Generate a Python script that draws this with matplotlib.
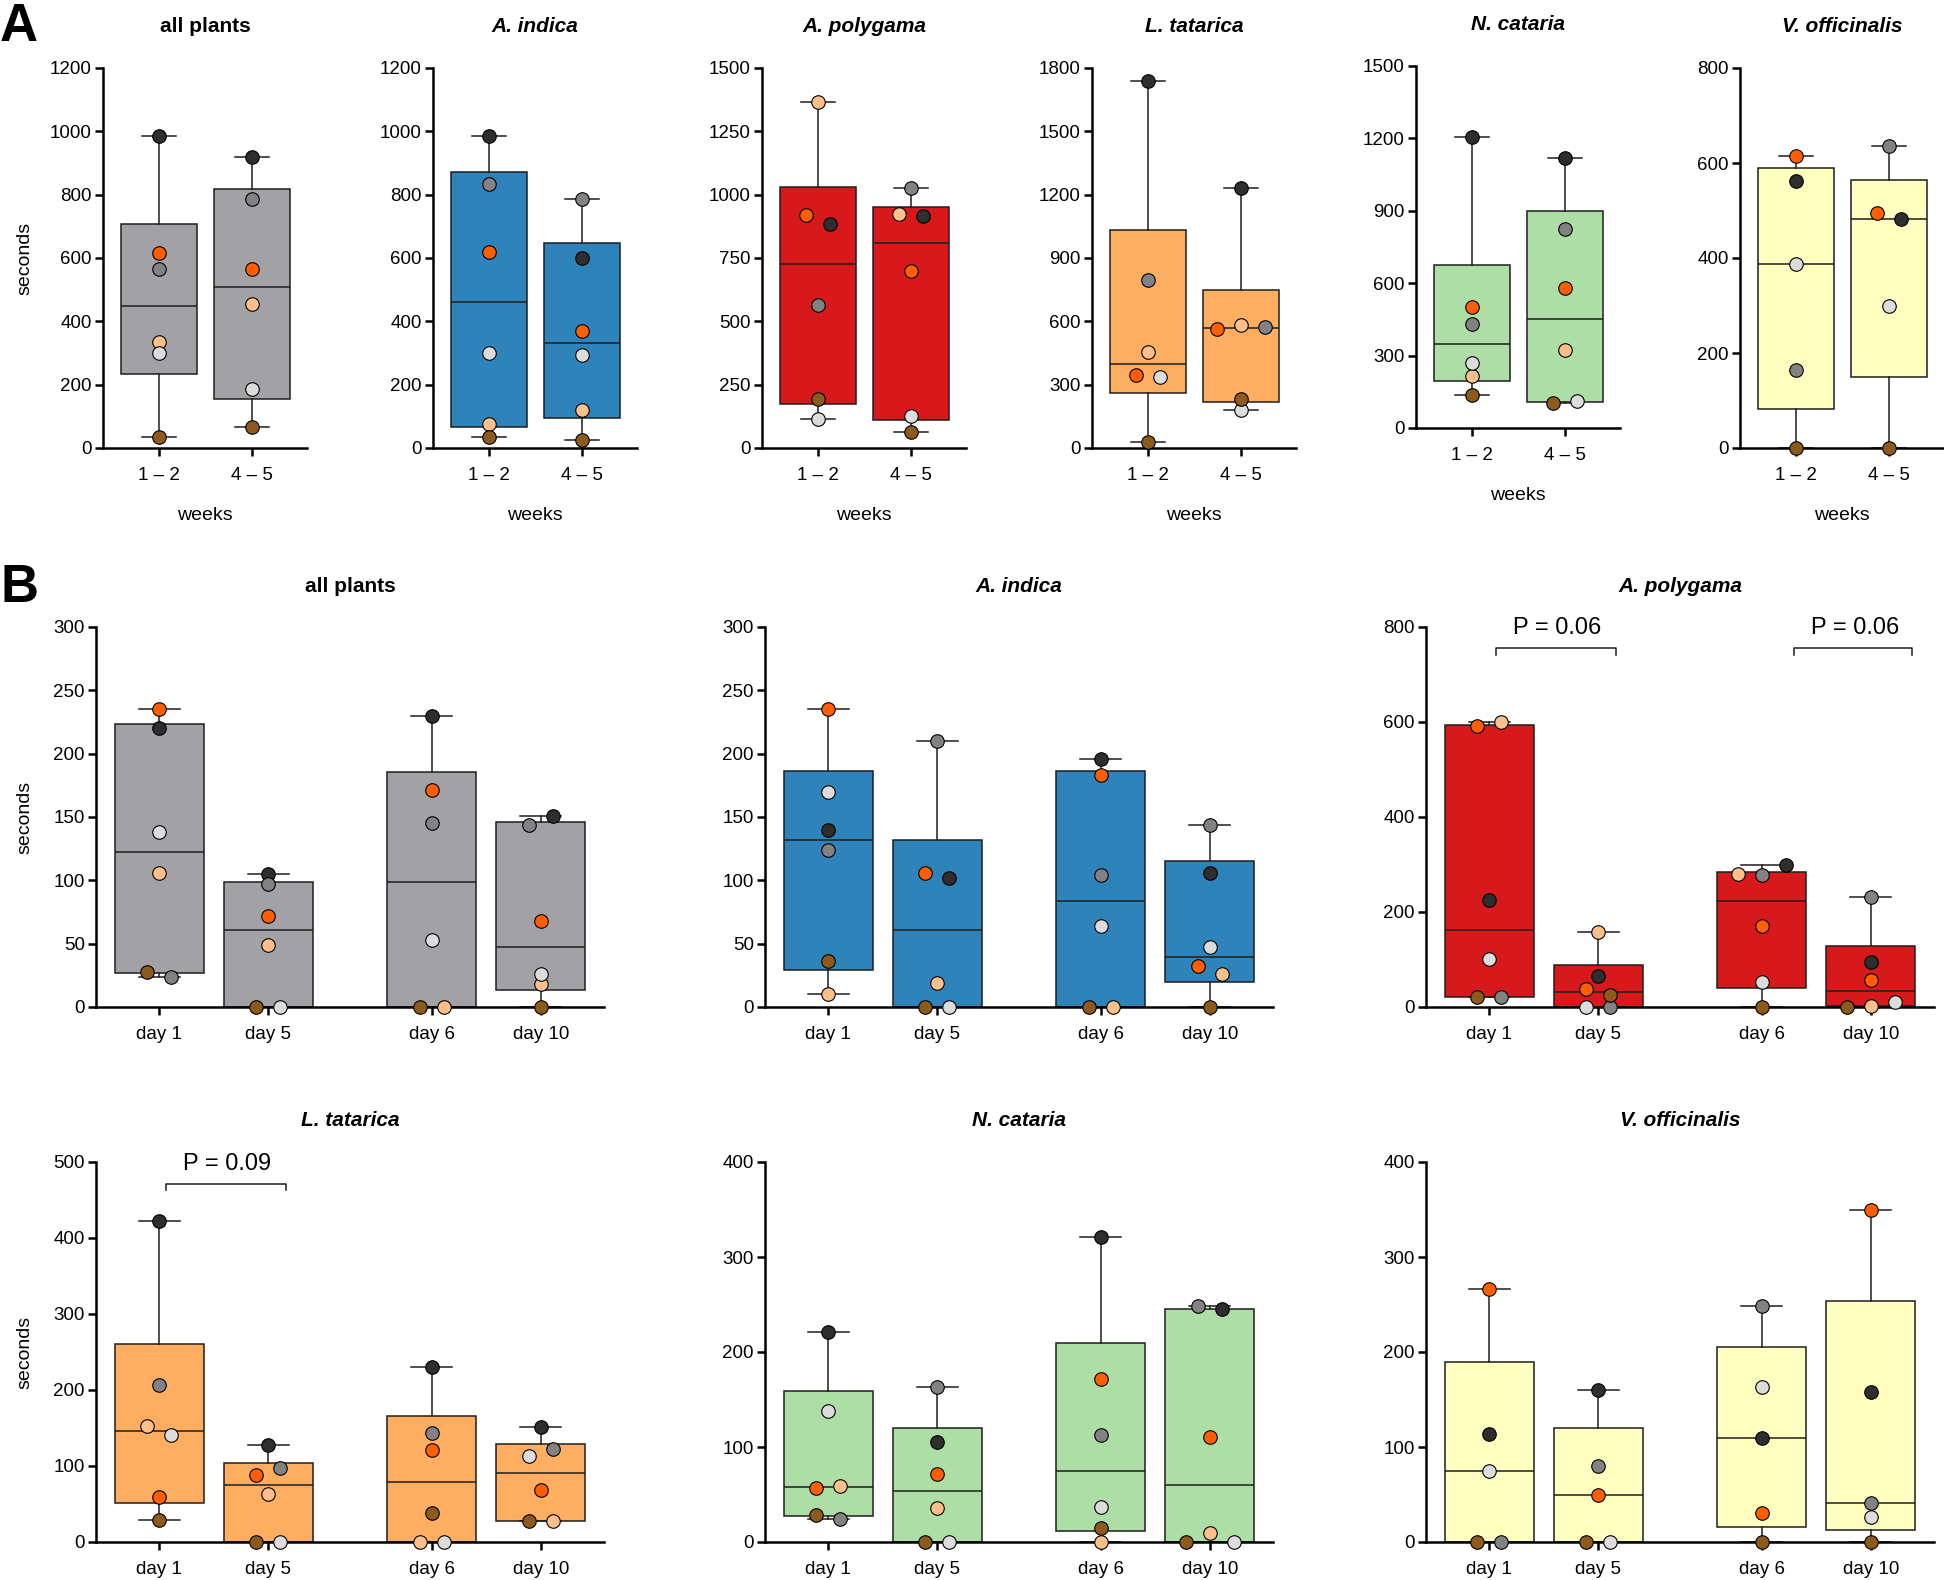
"""Boxplots of time spent (seconds) per plant, weeks and days (panels A and B)."""
import numpy as np
import matplotlib

matplotlib.use("Agg")
import matplotlib.pyplot as plt

plt.rcParams["font.family"] = ["Liberation Sans", "DejaVu Sans"]

W, H = 1944, 1580

# individual animals (dot colours); every panel array is rows=SERIES, cols=groups
SERIES = ["dark", "gray", "orange", "peach", "light", "brown"]
WEEKS = ["1 – 2", "4 – 5"]
DAYS = ["day 1", "day 5", "day 6", "day 10"]
NAN = np.nan

# ---- panel A (weeks) ----
A_ALL_PLANTS = [[985, 920], [565, 785], [615, 565], [335, 455], [300, 185], [35, 65]]
A_INDICA = [[985, 600], [835, 785], [620, 370], [75, 120], [300, 295], [35, 25]]
A_POLYGAMA = [[885, 915], [565, 1025], [920, 700], [1365, 925], [115, 125], [195, 65]]
A_TATARICA = [[1740, 1230], [795, 575], [345, 565], [455, 585], [335, 180], [30, 230]]
A_CATARIA = [[1205, 1120], [430, 825], [500, 580], [215, 325], [270, 110], [135, 105]]
A_OFFICINALIS = [[563, 483], [165, 635], [615, 495], [NAN, NAN], [388, 300], [0, 0]]

# ---- panel B (days) ----
B_ALL_PLANTS = [[220, 105, 230, 151], [24, 97, 145, 144], [235, 72, 171, 68],
                [106, 49, 0, 18], [138, 0, 53, 26], [28, 0, 0, 0]]
B_INDICA = [[140, 102, 196, 106], [124, 210, 104, 144], [235, 106, 183, 32],
            [10, 19, 0, 26], [170, 0, 64, 47], [36, 0, 0, 0]]
B_POLYGAMA = [[225, 66, 298, 95], [20, 0, 278, 232], [592, 37, 170, 56],
              [600, 158, 280, 3], [100, 0, 52, 10], [20, 26, 0, 0]]
B_TATARICA = [[423, 127, 230, 151], [207, 97, 144, 122], [59, 88, 121, 68],
              [152, 63, 0, 27], [141, 0, 0, 113], [29, 0, 38, 28]]
B_CATARIA = [[221, 105, 321, 245], [24, 163, 113, 248], [57, 72, 172, 111],
             [59, 36, 0, 10], [138, 0, 37, 0], [28, 0, 15, 0]]
B_OFFICINALIS = [[114, 160, 109, 158], [0, 80, 248, 41], [266, 49, 31, 350],
                 [NAN, NAN, NAN, NAN], [75, 0, 163, 26], [0, 0, 0, 0]]

P_POLYGAMA = ["P = 0.06", "P = 0.06"]
P_TATARICA = ["P = 0.09"]

# ---- styles ----
DOT_COLORS = {"dark": "#2e2e2e", "gray": "#828282", "orange": "#ff5f00",
              "peach": "#fdc08a", "light": "#dcdcdc", "brown": "#8b5a1c"}
BOX_COLORS = {"all": "#a2a1a6", "indica": "#2e83bb", "polygama": "#d7191c",
              "tatarica": "#fdae61", "cataria": "#acdea5", "officinalis": "#ffffc0"}
EDGE = "#1e1e1e"
WEEK_POS = [0, 1]
DAY_POS = [0, 1, 2.5, 3.5]


def rect(left, top, width, height):
    return [left / W, 1 - (top + height) / H, width / W, height / H]


def dot_offsets(vals, px_per_y, spacing):
    """Spread dots sideways when they would overlap (chained within ~10 px)."""
    idx = [i for i in np.argsort(vals, kind="stable") if not np.isnan(vals[i])]
    offs = np.zeros(len(vals))
    clusters = []
    for i in idx:
        if clusters and (vals[i] - vals[clusters[-1][-1]]) * px_per_y < 10:
            clusters[-1].append(i)
        else:
            clusters.append([i])
    for c in clusters:
        c = sorted(c, key=lambda i: [5, 4, 0, 2, 3, 1][i])
        n = len(c)
        for k, i in enumerate(c):
            offs[i] = (k - (n - 1) / 2) * spacing
    return offs


def draw_panel(fig, box, data, labels, pos, color, ymax, ystep, xlim, title,
               italic=True, ylabel=False, xlabel=None):
    ax = fig.add_axes(rect(*box))
    data = np.array(data, dtype=float)
    width = 0.82
    stats = []
    for j in range(data.shape[1]):
        v = data[:, j]
        v = v[~np.isnan(v)]
        q1, med, q3 = np.percentile(v, [25, 50, 75], method="weibull")
        stats.append(dict(med=med, q1=q1, q3=q3, whislo=v.min(), whishi=v.max()))
    line = dict(color=EDGE, linewidth=1.1)
    ax.bxp(stats, positions=pos, widths=width, capwidths=width / 2.2,
           patch_artist=True, showfliers=False, manage_ticks=False,
           boxprops=dict(facecolor=color, edgecolor=EDGE, linewidth=1.1),
           medianprops=line, whiskerprops=line, capprops=line)

    px_per_x = box[2] / (xlim[1] - xlim[0])
    px_per_y = box[3] / ymax
    for j, p in enumerate(pos):
        offs = dot_offsets(data[:, j], px_per_y, 24 / px_per_x)
        for i, s in enumerate(SERIES):
            if np.isnan(data[i, j]):
                continue
            ax.scatter(p + offs[i], data[i, j], s=95, color=DOT_COLORS[s],
                       edgecolor="black", linewidth=0.8, zorder=4, clip_on=False)

    ax.set_xlim(*xlim)
    ax.set_ylim(0, ymax)
    ax.set_yticks(np.arange(0, ymax + 1, ystep))
    ax.set_xticks(pos)
    ax.set_xticklabels(labels)
    for s in ("top", "right"):
        ax.spines[s].set_visible(False)
    for s in ("left", "bottom"):
        ax.spines[s].set_linewidth(1.8)
    ax.tick_params(axis="both", direction="out", length=6, width=1.8, labelsize=13.5)
    ax.tick_params(axis="y", pad=2)
    ax.tick_params(axis="x", pad=8)

    cx = (box[0] + box[2] / 2) / W
    fig.text(cx, 1 - (box[1] - 41) / H, title, ha="center", va="center",
             fontsize=15, fontweight="bold", style="italic" if italic else "normal")
    if ylabel:
        ax.set_ylabel("seconds", fontsize=14)
        ax.yaxis.set_label_coords(-(box[0] - 33) / box[2], 0.5)
    if xlabel:
        ax.set_xlabel(xlabel, fontsize=14)
        ax.xaxis.set_label_coords(0.5, -68 / box[3])
        ax.xaxis.label.set_va("center")
    return ax


def bracket(ax, x0, x1, y, tip, text, tx, ty):
    ax.plot([x0, x0, x1, x1], [y - tip, y, y, y - tip], color=EDGE, lw=1.1,
            clip_on=False)
    ax.text(tx, ty, text, ha="center", va="center", fontsize=17)


def main():
    fig = plt.figure(figsize=(W / 100, H / 100), dpi=100)

    # panel A
    a_xlim = (-0.6, 1.59)
    a_panels = [
        (A_ALL_PLANTS, "all plants", "all", 1200, 200, 103, False),
        (A_INDICA, "A. indica", "indica", 1200, 200, 433, True),
        (A_POLYGAMA, "A. polygama", "polygama", 1500, 250, 762, True),
        (A_TATARICA, "L. tatarica", "tatarica", 1800, 300, 1092, True),
        (A_CATARIA, "N. cataria", "cataria", 1500, 300, 1416, True),
        (A_OFFICINALIS, "V. officinalis", "officinalis", 800, 200, 1740, True),
    ]
    for k, (d, title, key, ymax, step, left, it) in enumerate(a_panels):
        box = (left, 66, 204, 362) if key == "cataria" else (left, 68, 204, 380)
        draw_panel(fig, box, d, WEEKS, WEEK_POS, BOX_COLORS[key], ymax, step,
                   a_xlim, title, italic=it, ylabel=(k == 0), xlabel="weeks")

    # panel B
    b_xlim = (-0.58, 4.08)
    b_panels = [
        (B_ALL_PLANTS, "all plants", "all", 300, 50, 96, 627, False),
        (B_INDICA, "A. indica", "indica", 300, 50, 765, 627, True),
        (B_POLYGAMA, "A. polygama", "polygama", 800, 200, 1426, 627, True),
        (B_TATARICA, "L. tatarica", "tatarica", 500, 100, 96, 1162, True),
        (B_CATARIA, "N. cataria", "cataria", 400, 100, 765, 1162, True),
        (B_OFFICINALIS, "V. officinalis", "officinalis", 400, 100, 1426, 1162, True),
    ]
    axes = {}
    for d, title, key, ymax, step, left, top, it in b_panels:
        axes[key] = draw_panel(fig, (left, top, 508, 380), d, DAYS, DAY_POS,
                               BOX_COLORS[key], ymax, step, b_xlim, title,
                               italic=it, ylabel=(left < 200))

    bracket(axes["polygama"], 0.06, 1.16, 755, 15, P_POLYGAMA[0], 0.62, 798)
    bracket(axes["polygama"], 2.8, 3.88, 755, 15, P_POLYGAMA[1], 3.36, 798)
    bracket(axes["tatarica"], 0.06, 1.16, 471, 8, P_TATARICA[0], 0.62, 498)

    fig.text(19 / W, 1 - 27 / H, "A", ha="center", va="center", fontsize=38,
             fontweight="bold")
    fig.text(19 / W, 1 - 588 / H, "B", ha="center", va="center", fontsize=38,
             fontweight="bold")

    fig.savefig("out.png", dpi=100)
    plt.close(fig)


if __name__ == "__main__":
    main()
